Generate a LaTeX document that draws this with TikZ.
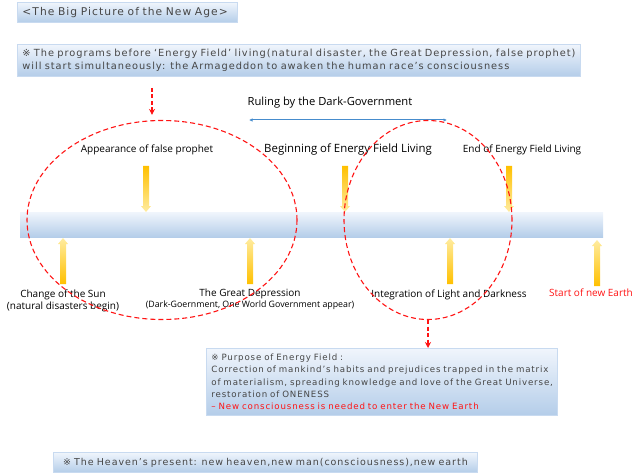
\documentclass[tikz,border=0pt]{standalone}
\usepackage{fontspec}
\setmainfont{Open Sans}
\newfontfamily\notefont[LetterSpace=10]{DejaVu Sans}
\usetikzlibrary{shapes.geometric,arrows.meta,positioning}
\definecolor{NoteBlue}{RGB}{180,205,233}
\definecolor{NoteTop}{RGB}{240,245,252}
\definecolor{NoteLine}{RGB}{200,218,240}
\definecolor{NoteText}{RGB}{70,70,70}
\definecolor{RulerBlue}{RGB}{70,140,205}
\definecolor{ArrowGold}{RGB}{255,192,0}
\definecolor{ArrowPale}{RGB}{255,236,160}
\definecolor{AlertRed}{RGB}{255,20,20}

\tikzset{
    golddown/.pic={
        \shade[top color=ArrowGold, middle color=ArrowGold!75!ArrowPale, bottom color=ArrowPale]
            (-3,23) -- (3,23) -- (3,-17) -- (5,-17) -- (0,-23) -- (-5,-17) -- (-3,-17) -- cycle;
    },
    goldup/.pic={
        \shade[bottom color=ArrowGold, middle color=ArrowGold!75!ArrowPale, top color=ArrowPale]
            (-3,-23) -- (3,-23) -- (3,17) -- (5,17) -- (0,23) -- (-5,17) -- (-3,17) -- cycle;
    },
}

\begin{document}
\begin{tikzpicture}[x=1pt,y=1pt,
    notebox/.style={rectangle, draw=NoteLine, line width=0.8pt, top color=NoteTop, bottom color=NoteBlue,
        anchor=north west, inner xsep=5pt, inner ysep=0pt, align=left, text=NoteText},
    stagelabel/.style={inner sep=1pt, align=center, font=\fontsize{10}{12}\selectfont},
    ring/.style={ellipse, draw=AlertRed, line width=1.1pt, dash pattern=on 5pt off 3pt, inner sep=0pt},
    alertarrow/.style={draw=AlertRed, line width=1.1pt, dash pattern=on 4pt off 2.5pt, -{Stealth[length=6pt,width=6pt]}},
    rulearrow/.style={draw=RulerBlue, line width=1pt, {Latex[length=3.5pt,width=3.5pt]}-{Latex[length=3.5pt,width=3.5pt]}}
]
\useasboundingbox (0,0) rectangle (640,-476);

% header boxes
\node[notebox, minimum width=220pt, minimum height=20pt, text width=210pt,
      font=\notefont\fontsize{10.7}{12}\selectfont] (title) at (17,-2) {<The Big Picture of the New Age>};
\node[notebox, minimum width=563pt, minimum height=32pt, text width=553pt,
      font=\notefont\fontsize{9.8}{13}\selectfont] (programs) at (17,-44)
    {※ The programs before ‘Energy Field’ living(natural disaster, the Great Depression, false prophet)\\
     will start simultaneously: the Armageddon to awaken the human race’s consciousness};

% timeline
\node[rectangle, anchor=north west, minimum width=583pt, minimum height=25pt, inner sep=0pt,
      top color=NoteTop, middle color=NoteBlue!85, bottom color=NoteBlue] (timeline) at (20,-212) {};

\node[font=\fontsize{11.2}{13}\selectfont] (ruling) at (330,-103) {Ruling by the Dark-Government};
\coordinate (rulestart) at (249,-120);
\coordinate (ruleend) at (447,-120);
\draw[rulearrow] (rulestart) -- (ruleend);

% stages above the line
\node[stagelabel] (prophet) at (147,-150) {Appearance of false prophet};
\node[stagelabel, font=\fontsize{11.4}{13}\selectfont] (beginfield) at (348,-150) {Beginning of Energy Field Living};
\node[stagelabel] (endfield) at (522,-150) {End of Energy Field Living};
\pic (prophetarrow) at (146,-189) {golddown};
\pic (beginarrow) at (345,-189) {golddown};
\pic (endarrow) at (509,-189) {golddown};

% stages below the line
\pic (sunarrow) at (63,-261) {goldup};
\pic (depressionarrow) at (250,-261) {goldup};
\pic (integrationarrow) at (450,-261) {goldup};
\pic (eartharrow) at (597,-263) {goldup};
\node[stagelabel] (sun) at (63,-301) {Change of the Sun\\(natural disasters begin)};
\node[stagelabel] (depression) at (250,-299.5)
    {The Great Depression\\[-1.5pt]{\fontsize{8.8}{10}\selectfont(Dark-Goernment, One World Government appear)}};
\node[stagelabel] (integration) at (449,-295) {Integration of Light and Darkness};
\node[stagelabel, text=AlertRed] (newearth) at (591,-293) {Start of new Earth};

% dashed groups
\node[ring, minimum width=270pt, minimum height=199pt] (leftring) at (162,-220) {};
\node[ring, minimum width=168pt, minimum height=199pt] (rightring) at (428,-220) {};

% lower boxes
\node[notebox, minimum width=351pt, minimum height=67pt, text width=341pt,
      font=\notefont\fontsize{8.65}{12.2}\selectfont] (purpose) at (206,-348)
    {※ Purpose of Energy Field :\\
     Correction of mankind’s habits and prejudices trapped in the matrix\\
     of materialism, spreading knowledge and love of the Great Universe,\\
     restoration of ONENESS\\
     {\color{AlertRed}– New consciousness is needed to enter the New Earth}};
\node[notebox, minimum width=424pt, minimum height=20pt, text width=414pt, align=center,
      font=\notefont\fontsize{9.5}{12}\selectfont] (present) at (53,-452)
    {※ The Heaven’s present: new heaven,new man(consciousness),new earth};

\coordinate (programcue) at (152,-88);
\draw[alertarrow, shorten >=5pt] (programcue) -- (programcue |- leftring.north);
\draw[alertarrow] (rightring.south) -- (rightring.south |- purpose.north);
\end{tikzpicture}
\end{document}
